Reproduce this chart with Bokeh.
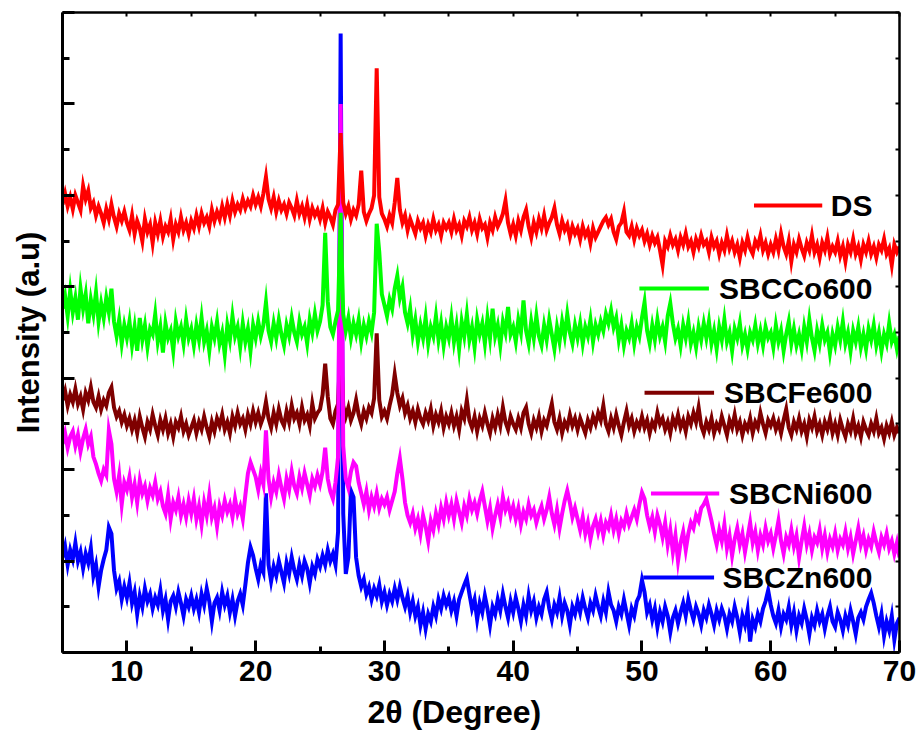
import numpy as np
from bokeh.plotting import figure
from bokeh.models import Range1d, LinearAxis, FixedTicker, ColumnDataSource
from bokeh.core.properties import value
from bokeh.embed import file_html
from bokeh.resources import INLINE

# 2-theta scan positions (0.2 degree step, 5-70 degrees)
two_theta = np.round(np.arange(5.0, 70.0001, 0.2), 1)

# Stacked XRD patterns (offset intensities, a.u.)
ds = [
    490, 502, 488, 498, 485, 500, 492, 484, 510, 496, 505, 486, 492, 478, 488, 480, 470, 485, 474, 490, 476, 466, 480, 472, 482,
    470, 462, 478, 458, 472, 464, 450, 474, 460, 468, 448, 470, 458, 472, 455, 466, 460, 474, 452, 468, 460, 476, 462, 470, 458,
    472, 464, 478, 466, 480, 470, 476, 466, 484, 472, 482, 474, 488, 476, 490, 478, 494, 482, 490, 484, 496, 486, 494, 488, 500,
    490, 498, 488, 502, 520, 496, 486, 498, 482, 494, 484, 490, 480, 492, 486, 478, 494, 480, 488, 476, 490, 474, 486, 478, 484,
    474, 486, 470, 482, 476, 468, 484, 490, 568, 492, 480, 488, 474, 484, 478, 490, 527, 482, 472, 480, 486, 500, 639, 498, 480,
    474, 466, 478, 470, 492, 519, 484, 470, 478, 462, 474, 466, 458, 472, 464, 470, 456, 468, 460, 474, 462, 468, 456, 470, 464,
    470, 460, 474, 462, 468, 456, 472, 466, 476, 462, 470, 458, 474, 464, 468, 454, 470, 462, 476, 466, 472, 480, 494, 470, 458,
    468, 456, 472, 462, 476, 484, 466, 454, 470, 460, 474, 464, 478, 462, 470, 476, 486, 468, 458, 472, 462, 468, 454, 466, 458,
    464, 452, 466, 456, 462, 448, 464, 454, 460, 466, 472, 476, 468, 474, 460, 452, 466, 470, 482, 460, 456, 466, 452, 464, 456,
    462, 450, 458, 446, 456, 448, 454, 440, 424, 450, 444, 456, 446, 452, 440, 454, 446, 458, 444, 450, 438, 452, 444, 456, 446,
    450, 438, 454, 444, 450, 436, 448, 440, 456, 442, 450, 438, 446, 432, 448, 440, 454, 442, 436, 450, 444, 456, 440, 448, 436,
    446, 438, 452, 440, 458, 444, 436, 450, 428, 446, 438, 452, 442, 434, 448, 440, 456, 438, 446, 432, 448, 440, 454, 436, 444,
    438, 450, 434, 444, 428, 446, 438, 452, 436, 444, 430, 446, 438, 450, 436, 444, 432, 446, 440, 452, 436, 442, 424, 446, 438, 444,
]

sbcco600 = [
    376, 390, 368, 396, 372, 388, 364, 398, 376, 392, 360, 386, 370, 394, 362, 382, 366, 388, 372, 398, 362, 346, 364, 338, 358,
    344, 362, 336, 356, 330, 366, 342, 358, 334, 354, 348, 370, 340, 356, 328, 360, 344, 352, 330, 362, 346, 356, 338, 364, 344,
    354, 336, 358, 342, 366, 340, 352, 330, 356, 344, 362, 338, 350, 326, 358, 342, 368, 346, 356, 334, 360, 340, 354, 330, 358,
    344, 362, 346, 358, 383, 352, 340, 360, 344, 364, 348, 336, 358, 346, 366, 350, 340, 362, 348, 356, 338, 364, 350, 370, 352,
    362, 380, 459, 384, 356, 348, 362, 374, 481, 370, 352, 366, 344, 360, 348, 364, 340, 358, 346, 362, 350, 372, 469, 438, 392,
    380, 368, 386, 376, 398, 412, 388, 400, 372, 360, 376, 348, 364, 340, 358, 344, 366, 338, 356, 346, 368, 342, 360, 336, 356,
    344, 366, 340, 358, 332, 362, 346, 370, 342, 356, 334, 364, 348, 360, 338, 366, 344, 376, 346, 358, 336, 362, 350, 378, 348,
    356, 340, 364, 350, 385, 352, 338, 362, 344, 368, 346, 336, 358, 342, 364, 348, 332, 356, 340, 362, 346, 370, 350, 338, 358,
    344, 360, 338, 356, 346, 364, 340, 358, 348, 362, 352, 370, 360, 374, 356, 366, 342, 358, 336, 352, 344, 360, 338, 356, 346,
    366, 383, 352, 338, 358, 342, 364, 346, 356, 340, 368, 382, 360, 344, 354, 336, 358, 344, 362, 338, 350, 334, 356, 342, 360,
    344, 362, 338, 352, 332, 356, 342, 364, 340, 350, 330, 354, 344, 360, 336, 348, 332, 350, 342, 358, 338, 352, 336, 356, 344,
    350, 334, 358, 340, 352, 330, 348, 362, 338, 354, 336, 348, 332, 356, 340, 364, 344, 330, 352, 338, 358, 342, 350, 328, 348,
    336, 356, 342, 362, 338, 350, 330, 352, 340, 356, 334, 348, 332, 354, 342, 358, 336, 350, 330, 348, 338, 360, 340, 348, 332, 346,
]

sbcfe600 = [
    276, 286, 270, 282, 274, 288, 272, 280, 266, 284, 276, 290, 274, 268, 280, 266, 276, 270, 284, 290, 268, 258, 264, 252, 260,
    248, 256, 244, 254, 240, 258, 246, 236, 252, 244, 260, 248, 238, 254, 244, 256, 240, 250, 236, 252, 246, 258, 242, 250, 238,
    246, 254, 240, 252, 244, 258, 246, 236, 252, 242, 256, 248, 260, 244, 252, 240, 258, 248, 262, 250, 256, 244, 260, 250, 264,
    252, 262, 250, 258, 274, 256, 246, 262, 250, 266, 254, 248, 264, 252, 270, 256, 262, 250, 268, 254, 260, 248, 272, 256, 262,
    266, 282, 316, 280, 256, 250, 264, 272, 340, 270, 258, 268, 254, 262, 276, 260, 250, 264, 256, 268, 262, 278, 349, 276, 258,
    264, 256, 270, 282, 304, 284, 270, 278, 262, 270, 256, 264, 252, 266, 256, 250, 262, 254, 266, 248, 260, 252, 264, 246, 258,
    250, 262, 248, 258, 244, 264, 256, 276, 254, 246, 258, 242, 256, 248, 262, 250, 240, 256, 246, 260, 248, 268, 252, 244, 258,
    250, 244, 256, 246, 262, 268, 250, 240, 254, 246, 258, 242, 254, 248, 260, 272, 252, 244, 256, 240, 252, 246, 260, 248, 256,
    244, 256, 248, 240, 254, 246, 258, 250, 262, 254, 270, 250, 242, 256, 246, 260, 248, 238, 252, 264, 248, 256, 242, 252, 246,
    258, 246, 254, 240, 252, 246, 262, 250, 256, 244, 252, 240, 256, 248, 260, 246, 254, 242, 258, 250, 262, 252, 268, 248, 240,
    252, 244, 256, 240, 250, 244, 258, 248, 238, 254, 246, 260, 244, 252, 238, 250, 244, 256, 240, 252, 246, 262, 250, 240, 254,
    248, 256, 244, 252, 240, 254, 266, 246, 238, 252, 244, 256, 242, 250, 236, 254, 246, 258, 242, 250, 238, 252, 244, 256, 240,
    250, 238, 254, 244, 236, 250, 242, 256, 240, 248, 236, 252, 244, 238, 250, 242, 256, 240, 246, 234, 248, 240, 252, 238, 246, 240,
]

sbcni600 = [
    228, 240, 224, 236, 242, 226, 238, 220, 234, 244, 228, 236, 214, 206, 196, 188, 200, 194, 243, 228, 190, 176, 194, 162, 186,
    178, 192, 170, 184, 164, 188, 174, 182, 166, 180, 172, 186, 168, 176, 160, 152, 172, 146, 164, 156, 170, 150, 162, 148, 166,
    152, 168, 146, 160, 140, 164, 150, 172, 148, 158, 138, 160, 150, 166, 154, 162, 148, 168, 152, 160, 146, 172, 196, 208, 200,
    192, 178, 196, 184, 243, 190, 170, 186, 176, 194, 180, 168, 190, 178, 198, 182, 174, 192, 180, 196, 184, 172, 190, 182, 194,
    184, 198, 224, 190, 176, 168, 186, 214, 600, 226, 190, 180, 198, 208, 204, 186, 174, 162, 176, 156, 170, 160, 174, 158, 168,
    162, 170, 156, 166, 176, 196, 212, 190, 164, 150, 142, 152, 136, 146, 130, 150, 138, 122, 144, 134, 152, 140, 158, 146, 164,
    150, 162, 146, 166, 154, 142, 160, 150, 168, 156, 164, 152, 166, 176, 160, 144, 158, 136, 150, 162, 148, 170, 156, 164, 150,
    160, 146, 158, 140, 154, 146, 162, 150, 156, 142, 152, 160, 146, 156, 170, 152, 140, 156, 136, 152, 166, 177, 164, 148, 158,
    146, 134, 148, 130, 142, 124, 138, 146, 132, 144, 128, 142, 136, 150, 134, 146, 130, 144, 138, 152, 140, 148, 156, 146, 162,
    175, 168, 150, 138, 148, 132, 150, 140, 126, 142, 118, 134, 110, 128, 100, 120, 132, 112, 130, 142, 136, 150, 144, 158, 162,
    168, 156, 144, 130, 118, 134, 122, 140, 114, 128, 106, 124, 136, 118, 130, 110, 126, 142, 120, 132, 112, 128, 118, 136, 122,
    130, 114, 128, 144, 122, 108, 126, 118, 134, 116, 128, 104, 122, 138, 118, 130, 112, 126, 120, 134, 114, 128, 110, 124, 116,
    130, 112, 124, 118, 132, 114, 126, 108, 122, 136, 118, 128, 112, 124, 116, 132, 120, 110, 126, 118, 130, 114, 122, 108, 120, 104,
]

sbczn600 = [
    104, 116, 96, 112, 102, 120, 100, 110, 92, 108, 98, 114, 84, 96, 72, 90, 102, 112, 137, 130, 90, 70, 78, 58, 72,
    60, 76, 54, 66, 42, 62, 50, 70, 56, 64, 48, 60, 52, 68, 46, 58, 36, 56, 62, 50, 66, 54, 40, 58, 50,
    62, 48, 58, 44, 64, 52, 70, 56, 34, 54, 60, 46, 66, 52, 62, 44, 58, 40, 56, 64, 52, 74, 98, 115, 106,
    92, 80, 96, 88, 174, 96, 78, 94, 84, 100, 88, 76, 98, 86, 104, 90, 80, 96, 84, 100, 92, 76, 94, 86, 102,
    94, 106, 96, 112, 100, 108, 96, 132, 677, 152, 86, 104, 177, 170, 104, 84, 72, 80, 64, 72, 58, 70, 62, 74, 56,
    66, 52, 64, 56, 70, 58, 72, 60, 50, 62, 44, 56, 40, 50, 30, 44, 26, 42, 34, 50, 40, 58, 48, 62, 52,
    60, 46, 56, 40, 58, 66, 74, 81, 64, 48, 58, 36, 54, 44, 62, 48, 30, 50, 42, 58, 46, 64, 50, 38, 56,
    44, 60, 48, 34, 52, 40, 62, 46, 56, 38, 50, 42, 58, 66, 48, 36, 52, 44, 60, 40, 54, 46, 30, 50, 42,
    56, 44, 60, 48, 38, 54, 46, 62, 50, 40, 56, 44, 66, 52, 46, 34, 50, 42, 58, 44, 30, 48, 40, 56, 62,
    79, 66, 44, 52, 36, 48, 28, 44, 34, 50, 40, 22, 38, 46, 32, 44, 54, 40, 58, 46, 36, 50, 42, 30, 46,
    38, 52, 42, 30, 46, 36, 48, 40, 26, 42, 34, 50, 38, 22, 40, 30, 46, 12, 36, 28, 42, 34, 48, 56, 68,
    52, 40, 32, 46, 28, 42, 36, 50, 30, 44, 24, 40, 32, 48, 36, 20, 38, 30, 46, 34, 42, 26, 40, 50, 34,
    28, 44, 36, 24, 40, 30, 46, 34, 20, 38, 44, 36, 50, 58, 65, 54, 40, 28, 42, 18, 34, 24, 40, 14, 32, 38,
]

labels = ["DS", "SBCCo600", "SBCFe600", "SBCNi600", "SBCZn600"]
colors = ["#FF0000", "#00FF00", "#7F0000", "#FF00FF", "#0000FF"]
patterns = [ds, sbcco600, sbcfe600, sbcni600, sbczn600]

x_ticks = [10, 20, 30, 40, 50, 60, 70]
x_minor = [5, 15, 25, 35, 45, 55, 65]
y_ticks = [0, 100, 200, 300, 400, 500, 600, 700]
y_minor = [50, 150, 250, 350, 450, 550, 650]

FONT = "Liberation Sans"
NBSP = "\u00a0"

p = figure(width=920, height=742, output_backend="svg", toolbar_location=None,
           x_range=Range1d(5, 70), y_range=Range1d(0, 700),
           min_border_left=62, min_border_right=21, min_border_top=12, min_border_bottom=90,
           background_fill_color="white", border_fill_color="white")
p.outline_line_color = None
p.xgrid.visible = False
p.ygrid.visible = False

# bottom axis with the 2-theta title (trailing spaces pull the title a little left)
xa = p.xaxis[0]
xa.ticker = FixedTicker(ticks=x_ticks, minor_ticks=x_minor)
xa.axis_line_width = 3
xa.major_tick_in = 12
xa.major_tick_out = 0
xa.minor_tick_in = 6
xa.minor_tick_out = 0
xa.major_tick_line_width = 3
xa.minor_tick_line_width = 3
xa.major_label_text_font = FONT
xa.major_label_text_font_style = "bold"
xa.major_label_text_font_size = "30px"
xa.major_label_text_color = "black"
xa.major_label_standoff = 8
xa.axis_label = "2\u03b8 (Degree)" + NBSP * 6
xa.axis_label_text_font = FONT
xa.axis_label_text_font_style = "bold"
xa.axis_label_text_font_size = "32px"
xa.axis_label_text_color = "black"
xa.axis_label_standoff = 10

# left axis: ticks only, plus the intensity title
ya = p.yaxis[0]
ya.ticker = FixedTicker(ticks=y_ticks, minor_ticks=y_minor)
ya.axis_line_width = 3
ya.major_tick_in = 12
ya.major_tick_out = 0
ya.minor_tick_in = 7
ya.minor_tick_out = 0
ya.major_tick_line_width = 3
ya.minor_tick_line_width = 3
ya.major_label_text_font_size = "1px"
ya.major_label_text_color = None
ya.major_label_standoff = 0
ya.axis_label = "Intensity (a.u)"
ya.axis_label_text_font = FONT
ya.axis_label_text_font_style = "bold"
ya.axis_label_text_font_size = "31px"
ya.axis_label_text_color = "black"
ya.axis_label_standoff = 17


def frame_axis(ticks, minor):
    # plain frame edge carrying short inward ticks and no labels
    return LinearAxis(ticker=FixedTicker(ticks=ticks, minor_ticks=minor),
                      axis_line_width=2.5, major_tick_in=4, major_tick_out=0,
                      minor_tick_in=4, minor_tick_out=0, major_tick_line_width=2,
                      minor_tick_line_width=2, major_label_text_font_size="1px",
                      major_label_text_color=None, major_label_standoff=0)


p.add_layout(frame_axis(x_ticks, x_minor), "above")
p.add_layout(frame_axis(y_ticks, y_minor), "right")

# patterns, bottom trace first so upper traces sit on top
for idx in [4, 2, 3, 1, 0]:
    p.line(two_theta, patterns[idx], line_color=colors[idx], line_width=4,
           line_join="miter")

# in-plot key: short coloured bar followed by sample name
key_y = [489, 398, 284, 174, 82]
key_x0 = [58.7, 49.8, 50.2, 50.7, 50.1]
key_x1 = [64.0, 55.2, 55.6, 56.0, 55.6]
key_text_x = 67.9
key_src = ColumnDataSource(dict(x0=key_x0, x1=key_x1, y=key_y, c=colors, t=labels,
                                tx=[key_text_x] * 5))
p.segment(x0="x0", y0="y", x1="x1", y1="y", line_color="c", line_width=4, source=key_src)
p.text(x="tx", y="y", text="t", source=key_src, text_align="right", text_baseline="middle",
       text_font=value(FONT), text_font_style="bold", text_font_size=value("30px"),
       text_color="black")

open("out.html", "w").write(file_html(p, INLINE))
